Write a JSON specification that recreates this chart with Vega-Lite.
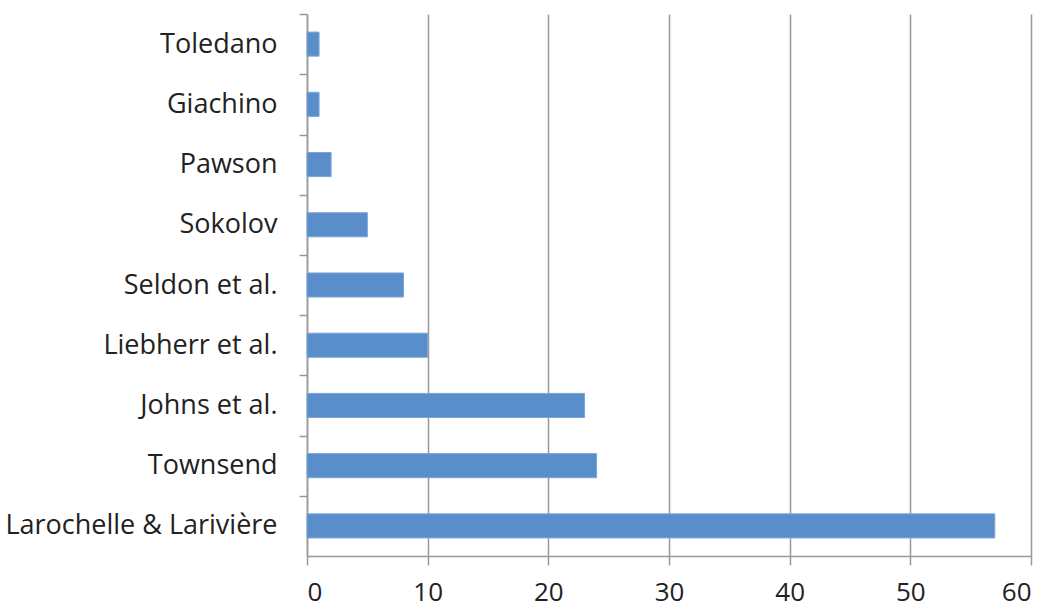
{
  "$schema": "https://vega.github.io/schema/vega-lite/v6.json",
  "width": 724,
  "height": 542,
  "autosize": {"type": "none"},
  "padding": {"left": 307, "top": 14, "right": 17, "bottom": 53},
  "background": "white",
  "data": {"values": [
    {"author": "Toledano", "count": 1},
    {"author": "Giachino", "count": 1},
    {"author": "Pawson", "count": 2},
    {"author": "Sokolov", "count": 5},
    {"author": "Seldon et al.", "count": 8},
    {"author": "Liebherr et al.", "count": 10},
    {"author": "Johns et al.", "count": 23},
    {"author": "Townsend", "count": 24},
    {"author": "Larochelle & Larivière", "count": 57}
  ]},
  "config": {
    "view": {"stroke": null},
    "axis": {"labelFont": "Open Sans", "labelFontSize": 27, "labelColor": "#222", "title": null}
  },
  "mark": {"type": "bar", "color": "#5a8ecb", "stroke": "#7aa6d8", "strokeWidth": 1},
  "encoding": {
    "y": {
      "field": "author", "type": "nominal", "sort": null,
      "scale": {"paddingInner": 0.6, "paddingOuter": 0.3},
      "axis": {"domainColor": "#999", "domainWidth": 1.5, "tickColor": "#999", "tickWidth": 1.5, "tickSize": 8, "tickOffset": -30, "labelOffset": 30, "labelPadding": 22, "labelLimit": 400, "grid": false}
    },
    "x": {
      "field": "count", "type": "quantitative",
      "scale": {"domain": [0, 60]},
      "axis": {"values": [0, 10, 20, 30, 40, 50, 60], "grid": true, "gridColor": "#999", "gridWidth": 1.5, "domainColor": "#999", "domainWidth": 1.5, "tickColor": "#999", "tickWidth": 1.5, "tickSize": 9, "labelPadding": 14, "labelFontSize": 26}
    }
  }
}
